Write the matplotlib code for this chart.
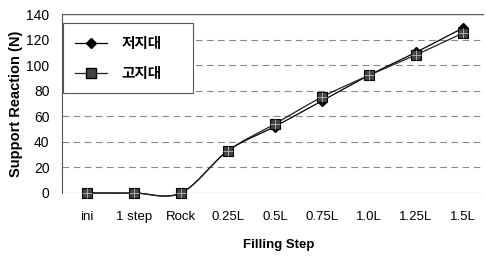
import numpy as np
import matplotlib
matplotlib.use("Agg")
import matplotlib.pyplot as plt
from matplotlib.lines import Line2D

categories = ["ini", "1 step", "Rock", "0.25L", "0.5L", "0.75L", "1.0L", "1.25L", "1.5L"]
lowland = [0, 0, 0, 33, 52, 72, 92, 110, 129]     # 저지대
highland = [0, 0, 0, 33, 54, 75, 92, 108, 125]    # 고지대
yticks = [0, 20, 40, 60, 80, 100, 120, 140]

plt.rcParams['font.family'] = ['Liberation Sans', 'Noto Sans CJK KR', 'DejaVu Sans']


def catmull(x, y, n=30):
    x = np.asarray(x, float); y = np.asarray(y, float)
    px = np.concatenate([[x[0]], x, [x[-1]]])
    py = np.concatenate([[y[0]], y, [y[-1]]])
    xs, ys = [], []
    for i in range(1, len(px) - 2):
        p0, p1, p2, p3 = (np.array([px[j], py[j]]) for j in (i - 1, i, i + 1, i + 2))
        c1 = p1 + (p2 - p0) / 6
        c2 = p2 - (p3 - p1) / 6
        t = np.linspace(0, 1, n)[:, None]
        b = (1 - t) ** 3 * p1 + 3 * (1 - t) ** 2 * t * c1 + 3 * (1 - t) * t ** 2 * c2 + t ** 3 * p2
        xs.append(b[:, 0]); ys.append(b[:, 1])
    return np.concatenate(xs), np.concatenate(ys)


fig = plt.figure(figsize=(4.86, 2.58), dpi=100)
ax = fig.add_axes([62 / 486, 65 / 258, 422 / 486, 179 / 258])
x = np.arange(len(categories))

for yv in yticks[1:-1]:
    ax.axhline(yv, color='#888888', lw=0.8, ls=(0, (6, 4)), zorder=0)
ax.axhline(140, color='#555555', lw=1.0, zorder=0)
ax.axhline(0, color='#888888', lw=0.8, zorder=0)

sx, sy = catmull(x, lowland)
ax.plot(sx, sy, color='black', lw=0.9, zorder=2, clip_on=False)
ax.plot(x, lowland, ls='none', marker='D', ms=5.5, mfc='black', mec='black', zorder=3, clip_on=False)
sx, sy = catmull(x, highland)
ax.plot(sx, sy, color='#222222', lw=0.9, zorder=2, clip_on=False)
ax.plot(x, highland, ls='none', marker='s', ms=6.5, mfc='#444444', mec='black', mew=0.8, zorder=4, clip_on=False)
ax.plot(x, highland, ls='none', marker='+', ms=6.5, color='#bbbbbb', mew=0.6, zorder=5, clip_on=False)

ax.set_xlim(-0.53, 8.45)
ax.set_ylim(0, 140)
ax.set_xticks(x)
ax.set_xticklabels(categories, fontsize=9.5)
ax.set_yticks(yticks)
ax.tick_params(axis='y', length=0, pad=9, labelsize=10)
ax.tick_params(axis='x', length=0, pad=13)
for s in ['top', 'right', 'bottom']:
    ax.spines[s].set_visible(False)
ax.spines['left'].set_color('#555555')
ax.set_ylabel('Support Reaction (N)', fontsize=10.5, fontweight='bold')
ax.yaxis.set_label_coords(-(62 - 16) / 422, 0.5)
ax.yaxis.label.set_va('center')
ax.set_xlabel('Filling Step', fontsize=9.5, fontweight='bold')
ax.xaxis.set_label_coords((279 - 62) / 422, -(245 - 193) / 179)
ax.xaxis.label.set_va('center')

handles = [
    Line2D([], [], color='black', lw=0.9, marker='D', ms=5.5, mfc='black', mec='black'),
    Line2D([], [], color='#222222', lw=0.9, marker='s', ms=6.5, mfc='#444444', mec='black'),
]
leg = ax.legend(handles, ['저지대', '고지대'], loc='upper left',
                bbox_to_anchor=(1 / 422, 1 - 11 / 179, 130 / 422, 0.01), mode='expand',
                frameon=True, fancybox=False, edgecolor='#555555', framealpha=1,
                prop={'family': ['Noto Sans CJK KR'], 'weight': 'bold', 'size': 10.5},
                handlelength=2.2, borderpad=0.8, labelspacing=1.0, handletextpad=1.0, borderaxespad=0)
leg.get_frame().set_linewidth(0.8)

fig.savefig('out.png', dpi=100)
